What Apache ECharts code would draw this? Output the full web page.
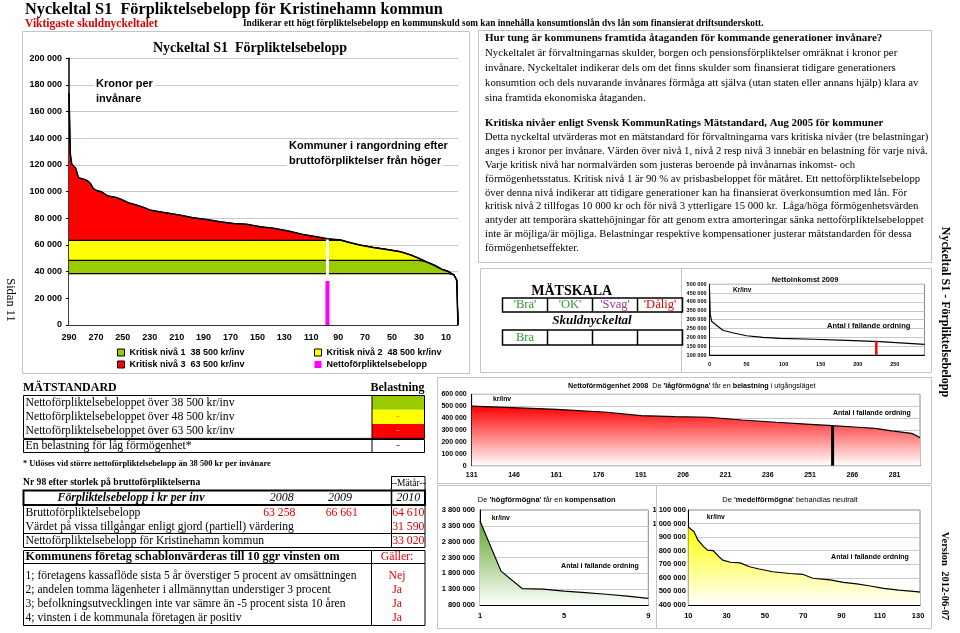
<!DOCTYPE html>
<html><head><meta charset="utf-8">
<script src="https://cdn.jsdelivr.net/npm/echarts@6/dist/echarts.min.js"></script>
<style>html,body{margin:0;padding:0;background:#fff}#c{width:960px;height:633px}</style>
</head><body><div id="c"></div>
<script>
// ---------------- DATA ----------------
const mainRanks  = [290,289,288,287,285,283,278,276,274,272,270,266,263,261,255,250,246,240,234,230,223,215,208,198,188,178,168,158,148,138,128,116,104,98,88,81,74,64,54,44,36,30,25,19,13,8,4,2,1];
const mainValues = [174000,128000,121000,119500,117500,110500,109000,108000,106000,102500,101000,100000,98000,96700,95700,93700,91700,90000,88000,86200,85000,83700,82500,80500,79200,77500,76200,75500,73700,72500,70700,67800,65800,64610,63700,61700,60000,58200,56700,55000,52500,50000,47500,45000,41800,40000,37500,33700,0];
const levels = [38500, 48500, 63500];
const levelNames = ['Kritisk nivå 1  38 500 kr/inv','Kritisk nivå 2  48 500 kr/inv','Kritisk nivå 3  63 500 kr/inv'];
const nettoName = 'Nettoförpliktelsebelopp';
const kommunRank = 98;
const bruttoKommun = 64610;
const nettoKommun = 33020;
const mainTicks = [10,30,50,70,90,110,130,150,170,190,210,230,250,270,290];

const inkomstX = [0,1,3,9,18,31,50,72,95,140,185,230,290];
const inkomstValues = [470000,330000,290000,270000,240000,226000,209000,200000,194000,189000,183000,176000,160000];
const inkomstKommunX = 225, inkomstKommun = 180000;
const inkomstTicks = [0,50,100,150,200,250];

const lagX = [131,143,161,179,191,203,215,227,239,251,259,268,274,280,287,289,290];
const lagValues = [500000,490000,474000,449000,420000,412000,407000,384000,365000,348000,336000,323000,314000,292000,272000,250000,235000];
const lagKommunX = 259, lagKommun = 336000;
const lagTicks = [131,146,161,176,191,206,221,236,251,266,281];

const hogX = [1,2,3,4,5,6,7,8,9];
const hogValues = [3450000,1870000,1320000,1300000,1240000,1190000,1140000,1080000,1010000];
const hogTicks = [1,5,9];

const medelX = [10,13,15,18,20,23,26,28,32,37,42,47,54,63,70,75,84,91,98,105,112,120,129,131];
const medelValues = [975000,940000,879000,830000,805000,800000,756000,731000,715000,710000,682000,665000,645000,632000,625000,597000,585000,567000,556000,540000,523000,510000,498000,495000];
const medelTicks = [10,30,50,70,90,110,130];

const standardRows = ['Nettoförpliktelsebeloppet över 38 500 kr/inv','Nettoförpliktelsebeloppet över 48 500 kr/inv','Nettoförpliktelsebeloppet över 63 500 kr/inv','En belastning för låg förmögenhet*'];
const belastning = ['-','-','-','-'];
const yearHeads = ['2008','2009','2010'];
const bruttoYears = ['63 258','66 661','64 610'];
const vardet2010 = '31 590';
const netto2010 = '33 020';
const villkor = ['1; företagens kassaflöde sista 5 år överstiger 5 procent av omsättningen','2; andelen tomma lägenheter i allmännyttan understiger 3 procent','3; befolkningsutvecklingen inte var sämre än -5 procent sista 10 åren','4; vinsten i de kommunala företagen är positiv'];
const galler = ['Nej','Ja','Ja','Ja'];
const skala = ["'Bra'","'OK'","'Svag'","'Dålig'"];
const skalaResult = ['Bra','','',''];

const para1 = ['Nyckeltalet är förvaltningarnas skulder, borgen och pensionsförpliktelser omräknat i kronor per',
'invånare. Nyckeltalet indikerar dels om det finns skulder som finansierat tidigare generationers',
'konsumtion och dels nuvarande invånares förmåga att själva (utan staten eller annans hjälp) klara av',
'sina framtida ekonomiska åtaganden.'];
const para2 = ['Detta nyckeltal utvärderas mot en mätstandard för förvaltningarna vars kritiska nivåer (tre belastningar)',
'anges i kronor per invånare. Värden över nivå 1, nivå 2 resp nivå 3 innebär en belastning för varje nivå.',
'Varje kritisk nivå har normalvärden som justeras beroende på invånarnas inkomst- och',
'förmögenhetsstatus. Kritisk nivå 1 är 90 % av prisbasbeloppet för mätåret. Ett nettoförpliktelsebelopp',
'över denna nivå indikerar att tidigare generationer kan ha finansierat överkonsumtion med lån. För',
'kritisk nivå 2 tillfogas 10 000 kr och för nivå 3 ytterligare 15 000 kr.  Låga/höga förmögenhetsvärden',
'antyder att temporära skattehöjningar för att genom extra amorteringar sänka nettoförpliktelsebeloppet',
'inte är möjliga/är möjliga. Belastningar respektive kompensationer justerar mätstandarden för dessa',
'förmögenhetseffekter.'];

// ---------------- HELPERS ----------------
const SERIF = '"Liberation Serif","Times New Roman",serif';
const SANS = '"Liberation Sans",Arial,sans-serif';
const fmt = v => String(v).replace(/\B(?=(\d{3})+(?!\d))/g, ' ');
const pairs = (xs, ys) => xs.map((x, i) => [x, ys[i]]);
const RED = '#e00000';

function txt(x, y, text, o) {
  o = o || {};
  const st = {text: text, fill: o.color || '#000', fontSize: o.size || 11, fontFamily: o.family || SERIF,
    fontWeight: o.weight || 'normal', fontStyle: o.italic ? 'italic' : 'normal',
    align: o.align || 'left', verticalAlign: 'middle', textAlign: o.align || 'left', textVerticalAlign: 'middle'};
  if (o.bg) { st.backgroundColor = o.bg; st.padding = [1, 2]; }
  if (o.rich) st.rich = o.rich;
  return {type: 'text', x: x, y: y, rotation: o.rot || 0, z: 100, silent: true, style: st};
}
function rect(x, y, w, h, o) {
  o = o || {};
  return {type: 'rect', z: o.z || 50, silent: true, shape: {x: x, y: y, width: w, height: h},
    style: {fill: o.fill || 'none', stroke: o.stroke || null, lineWidth: o.lw || 1}};
}
function line(x1, y1, x2, y2, o) {
  o = o || {};
  return {type: 'line', z: o.z || 51, silent: true, shape: {x1: x1, y1: y1, x2: x2, y2: y2},
    style: {stroke: o.stroke || '#000', lineWidth: o.lw || 1}};
}
function xAx(gi, min, max, ticks, fs, inverse, margin) {
  return {gridIndex: gi, type: 'value', min: min, max: max, inverse: !!inverse,
    axisLine: {show: true, onZero: false, lineStyle: {color: '#000', width: 1}},
    axisTick: {show: false}, splitLine: {show: false},
    axisLabel: {customValues: ticks, fontFamily: SANS, fontWeight: 'bold', fontSize: fs, color: '#000', margin: margin}};
}
function yAx(gi, min, max, interval, fs, margin) {
  return {gridIndex: gi, type: 'value', min: min, max: max, interval: interval,
    axisLine: {show: true, lineStyle: {color: '#000', width: 1}},
    axisTick: {show: false},
    splitLine: {show: true, lineStyle: {color: '#c8c8c8', width: 1}},
    axisLabel: {formatter: fmt, fontFamily: SANS, fontWeight: 'bold', fontSize: fs, color: '#000', margin: margin}};
}
function grad(c) {
  return new echarts.graphic.LinearGradient(0, 0, 0, 1, [{offset: 0, color: c}, {offset: 1, color: '#ffffff'}]);
}

// ---------------- CHART ----------------
const chart = echarts.init(document.getElementById('c'), null, {renderer: 'canvas'});
const mainData = pairs(mainRanks, mainValues);
const capped = lim => mainData.map(p => [p[0], Math.min(p[1], lim)]);

const grids = [
  {left: 69, top: 58.3, width: 389, height: 266.7},           // main
  {left: 709.5, top: 284.3, width: 215, height: 70.7},         // nettoinkomst
  {left: 471.7, top: 394.3, width: 448.3, height: 71.4},       // nettoförmögenhet
  {left: 480, top: 510, width: 168.3, height: 95},             // hög
  {left: 688.3, top: 510, width: 231.7, height: 95}            // medel
].map((g, i) => Object.assign({show: i > 0, borderColor: '#888', borderWidth: 1, backgroundColor: 'transparent', containLabel: false, outerBoundsMode: 'none'}, g));

const mainY = yAx(0, 0, 200000, 20000, 9, 7);
mainY.axisLine.lineStyle.width = 1.5;
mainY.axisTick = {show: true, length: 3, lineStyle: {color: '#000'}};
const mainX = xAx(0, 1, 290, mainTicks, 9, true, 8);
mainX.axisLine.lineStyle.width = 1.5;

const graphics = [];
// frames
graphics.push(rect(22.5, 31.5, 447, 342, {stroke: '#c4c4c4', z: 1}));
graphics.push(rect(478.5, 30.5, 453, 232, {stroke: '#c4c4c4', z: 1}));
graphics.push(rect(480.5, 268.5, 451, 104, {stroke: '#c4c4c4', z: 1}));
graphics.push(line(681.5, 268.5, 681.5, 372.5, {stroke: '#c4c4c4', z: 1}));
graphics.push(rect(437.5, 377.5, 494, 106, {stroke: '#c4c4c4', z: 1}));
graphics.push(rect(437.5, 485.5, 219, 143, {stroke: '#c4c4c4', z: 1}));
graphics.push(rect(656.5, 485.5, 275, 143, {stroke: '#c4c4c4', z: 1}));

// top titles
graphics.push(txt(25, 10, 'Nyckeltal S1  Förpliktelsebelopp för Kristinehamn kommun', {size: 16.3, weight: 'bold'}));
graphics.push(txt(25, 24, 'Viktigaste skuldnyckeltalet', {size: 11.5, weight: 'bold', color: RED}));
graphics.push(txt(243, 23.5, 'Indikerar ett högt förpliktelsebelopp en kommunskuld som kan innehålla konsumtionslån dvs lån som finansierat driftsunderskott.', {size: 9.3, weight: 'bold'}));

// main chart texts
graphics.push(txt(250, 48, 'Nyckeltal S1  Förpliktelsebelopp', {size: 14, weight: 'bold', align: 'center'}));
graphics.push(txt(94, 84, 'Kronor per', {size: 11, weight: 'bold', family: SANS, bg: '#fff'}));
graphics.push(txt(94, 99, 'invånare', {size: 11, weight: 'bold', family: SANS, bg: '#fff'}));
graphics.push(txt(287, 146, 'Kommuner i rangordning efter', {size: 11, weight: 'bold', family: SANS, bg: '#fff'}));
graphics.push(txt(287, 161, 'bruttoförpliktelser från höger', {size: 11, weight: 'bold', family: SANS, bg: '#fff'}));

// MÄTSTANDARD table
graphics.push(txt(23, 388, 'MÄTSTANDARD', {size: 12, weight: 'bold'}));
graphics.push(txt(424.5, 388, 'Belastning', {size: 12, weight: 'bold', align: 'right'}));
const cellColors = ['#99cc00', '#ffff00', '#ff0000'];
const rowTop = [395.5, 409.8, 424.1];
for (let i = 0; i < 3; i++) {
  graphics.push(rect(372, rowTop[i], 52.5, 14.3, {fill: cellColors[i], z: 40}));
  graphics.push(txt(23.5 + 2, rowTop[i] + 7.2, standardRows[i], {size: 11.7}));
  graphics.push(txt(398, rowTop[i] + 7.2, belastning[i], {size: 11.7, align: 'center', color: '#ff9a00'}));
}
graphics.push(rect(23.5, 395.5, 401, 42.9, {stroke: '#000'}));
graphics.push(line(372, 395.5, 372, 438.4));
graphics.push(rect(23.5, 439.5, 401, 13, {stroke: '#000'}));
graphics.push(line(372, 439.5, 372, 452.5));
graphics.push(txt(25.5, 446, standardRows[3], {size: 11.7}));
graphics.push(txt(398, 446, belastning[3], {size: 11.7, align: 'center', color: '#555'}));
graphics.push(txt(23, 463.5, '* Utlöses vid större nettoförpliktelsebelopp än 38 500 kr per invånare', {size: 8.4, weight: 'bold'}));
graphics.push(txt(23, 483, 'Nr 98 efter storlek på bruttoförpliktelserna', {size: 9.6, weight: 'bold'}));
graphics.push(rect(391.5, 476.5, 33.5, 14, {stroke: '#000'}));
graphics.push(txt(408.3, 483.5, '--Mätår--', {size: 9.5, align: 'center'}));
graphics.push(rect(23.5, 490.5, 401.5, 14.5, {stroke: '#000', lw: 2}));
graphics.push(line(391.5, 490.5, 391.5, 505, {lw: 1.5}));
graphics.push(txt(131, 497.8, 'Förpliktelsebelopp i kr per inv', {size: 11.8, weight: 'bold', italic: true, align: 'center'}));
graphics.push(txt(281.7, 497.8, yearHeads[0], {size: 12, italic: true, align: 'center'}));
graphics.push(txt(340, 497.8, yearHeads[1], {size: 12, italic: true, align: 'center'}));
graphics.push(txt(408.3, 497.8, yearHeads[2], {size: 12, italic: true, align: 'center'}));
graphics.push(rect(23.5, 505.5, 401.5, 28, {stroke: '#000'}));
graphics.push(line(391.5, 505.5, 391.5, 547.5));
graphics.push(rect(23.5, 533.5, 401.5, 14, {stroke: '#000'}));
graphics.push(txt(25.5, 512.5, 'Bruttoförpliktelsebelopp', {size: 11.7}));
graphics.push(txt(279.3, 512.5, bruttoYears[0], {size: 11.7, align: 'center', color: RED}));
graphics.push(txt(341.7, 512.5, bruttoYears[1], {size: 11.7, align: 'center', color: RED}));
graphics.push(txt(408.3, 512.5, bruttoYears[2], {size: 11.7, align: 'center', color: RED}));
graphics.push(txt(25.5, 526.5, 'Värdet på vissa tillgångar enligt gjord (partiell) värdering', {size: 11.7}));
graphics.push(txt(408.3, 526.5, vardet2010, {size: 11.7, align: 'center', color: RED}));
graphics.push(txt(25.5, 540.5, 'Nettoförpliktelsebelopp för Kristinehamn kommun', {size: 11.7}));
graphics.push(txt(408.3, 540.5, netto2010, {size: 11.7, align: 'center', color: RED}));
graphics.push(rect(23.5, 550.5, 401.5, 13, {stroke: '#000'}));
graphics.push(line(371.5, 550.5, 371.5, 563.5));
graphics.push(txt(25.5, 557, 'Kommunens företag schablonvärderas till 10 ggr vinsten om', {size: 12.2, weight: 'bold'}));
graphics.push(txt(397, 557, 'Gäller:', {size: 11.7, align: 'center', color: RED}));
graphics.push(rect(23.5, 563.5, 401.5, 62, {stroke: '#000'}));
graphics.push(line(371.5, 563.5, 371.5, 625.5));
for (let i = 0; i < 4; i++) {
  graphics.push(txt(25.5, 576 + i * 14, villkor[i], {size: 11.6}));
  graphics.push(txt(397, 576 + i * 14, galler[i], {size: 11.7, align: 'center', color: RED}));
}

// right text block
graphics.push(txt(485, 38, 'Hur tung är kommunens framtida åtaganden för kommande generationer invånare?', {size: 11, weight: 'bold'}));
para1.forEach((s, i) => graphics.push(txt(485, 53.5 + i * 15, s, {size: 10.8})));
graphics.push(txt(485, 123, 'Kritiska nivåer enligt Svensk KommunRatings Mätstandard, Aug 2005 för kommuner', {size: 10.8, weight: 'bold'}));
para2.forEach((s, i) => graphics.push(txt(485, 137.5 + i * 13.8, s, {size: 10.7})));

// MÄTSKALA
graphics.push(txt(571.7, 291, 'MÄTSKALA', {size: 14, weight: 'bold', align: 'center'}));
const skalaColors = ['#339933', '#339933', '#993399', RED];
for (let i = 0; i < 4; i++) {
  graphics.push(txt(525 + i * 45, 305, skala[i], {size: 12.5, align: 'center', color: skalaColors[i]}));
  if (skalaResult[i]) graphics.push(txt(525 + i * 45, 337.5, skalaResult[i], {size: 12.5, align: 'center', color: skalaColors[i]}));
}
graphics.push(rect(502.5, 298, 180, 14, {stroke: '#000', lw: 1.5}));
graphics.push(rect(502.5, 330, 180, 15, {stroke: '#000', lw: 1.5}));
for (let i = 1; i < 4; i++) {
  graphics.push(line(502.5 + i * 45, 298, 502.5 + i * 45, 312, {lw: 1.5}));
  graphics.push(line(502.5 + i * 45, 330, 502.5 + i * 45, 345, {lw: 1.5}));
}
graphics.push(txt(592, 321, 'Skuldnyckeltal', {size: 13, weight: 'bold', italic: true, align: 'center'}));

// small chart texts
graphics.push(txt(805, 279.5, 'Nettoinkomst 2009', {size: 7.5, weight: 'bold', family: SANS, align: 'center'}));
graphics.push(txt(733, 290, 'Kr/inv', {size: 6.5, weight: 'bold', family: SANS}));
graphics.push(txt(827, 325.7, 'Antal i fallande ordning', {size: 7.5, weight: 'bold', family: SANS}));

graphics.push(txt(691.7, 386, '{a|Nettoförmögenhet 2008}  {r|De }{rb|\'lågförmögna\'}{r| får en }{rb|belastning}{r| i utgångsläget}', {align: 'center', family: SANS, size: 7.2, rich: {
  a: {fontFamily: SANS, fontSize: 7.2, fontWeight: 'bold', color: '#000'},
  r: {fontFamily: SANS, fontSize: 7.2, color: RED},
  rb: {fontFamily: SANS, fontSize: 7.2, fontWeight: 'bold', color: RED}}}));
graphics.push(txt(493, 399.3, 'kr/inv', {size: 6.8, weight: 'bold', family: SANS}));
graphics.push(txt(833, 412.7, 'Antal i fallande ordning', {size: 7, weight: 'bold', family: SANS}));

const GREEN = '#2f9960';
graphics.push(txt(546.7, 500, "{g|De }{gb|'högförmögna'}{g| får en }{gb|kompensation}", {align: 'center', family: SANS, size: 7.5, rich: {
  g: {fontFamily: SANS, fontSize: 7.5, color: GREEN},
  gb: {fontFamily: SANS, fontSize: 7.5, fontWeight: 'bold', color: GREEN}}}));
graphics.push(txt(491.7, 517.7, 'kr/inv', {size: 6.8, weight: 'bold', family: SANS}));
graphics.push(txt(600, 565.7, 'Antal i fallande ordning', {size: 7, weight: 'bold', family: SANS, align: 'center'}));

graphics.push(txt(790, 500, "{k|De }{kb|'medelförmögna'}{k| behandlas neutralt}", {align: 'center', family: SANS, size: 7.5, rich: {
  k: {fontFamily: SANS, fontSize: 7.5, color: '#000'},
  kb: {fontFamily: SANS, fontSize: 7.5, fontWeight: 'bold', color: '#000'}}}));
graphics.push(txt(706.7, 516.7, 'kr/inv', {size: 6.8, weight: 'bold', family: SANS}));
graphics.push(txt(870, 556.7, 'Antal i fallande ordning', {size: 7, weight: 'bold', family: SANS, align: 'center'}));

// side texts
graphics.push(txt(10, 300, 'Sidan 11', {size: 12.5, align: 'center', rot: -Math.PI / 2}));
graphics.push(txt(945, 312, 'Nyckeltal S1 - Förpliktelsebelopp', {size: 12, weight: 'bold', align: 'center', rot: -Math.PI / 2}));
graphics.push(txt(945, 576, 'Version  2012-06-07', {size: 10.5, weight: 'bold', align: 'center', rot: -Math.PI / 2}));

const legendText = {fontFamily: SANS, fontWeight: 'bold', fontSize: 9, color: '#000'};
const option = {
  animation: false,
  backgroundColor: '#fff',
  grid: grids,
  xAxis: [
    mainX,
    {gridIndex: 0, type: 'value', inverse: true, min: 1, max: 290, show: false},
    xAx(1, 0, 290, inkomstTicks, 5.5, false, 6),
    xAx(2, 131, 290, lagTicks, 7, false, 6),
    xAx(3, 1, 9, hogTicks, 7.5, false, 7),
    xAx(4, 10, 131, medelTicks, 7.5, false, 7)
  ],
  yAxis: [
    mainY,
    yAx(1, 100000, 500000, 50000, 5.5, 3),
    yAx(2, 0, 600000, 100000, 7, 5),
    yAx(3, 800000, 3800000, 500000, 7.5, 5),
    yAx(4, 400000, 1100000, 100000, 7.5, 2.5)
  ],
  legend: [
    {left: 112, top: 343, orient: 'vertical', icon: 'rect', itemWidth: 7, itemHeight: 7, itemGap: 3, selectedMode: false,
     textStyle: legendText, itemStyle: {borderColor: '#000', borderWidth: 1},
     data: [levelNames[0], levelNames[2]]},
    {left: 309, top: 343, orient: 'vertical', icon: 'rect', itemWidth: 7, itemHeight: 7, itemGap: 3, selectedMode: false,
     textStyle: legendText, itemStyle: {borderColor: '#000', borderWidth: 1},
     data: [levelNames[1], {name: nettoName, itemStyle: {borderWidth: 0}}]}
  ],
  series: [
    {type: 'line', name: levelNames[2], xAxisIndex: 0, yAxisIndex: 0, data: mainData, symbol: 'none', color: '#ff0000',
     lineStyle: {color: '#000', width: 1}, areaStyle: {color: '#ff0000', opacity: 1}, z: 2, silent: true},
    {type: 'line', name: levelNames[1], xAxisIndex: 0, yAxisIndex: 0, data: capped(levels[2]), symbol: 'none', color: '#ffff00',
     lineStyle: {color: '#000', width: 1.2}, areaStyle: {color: '#ffff00', opacity: 1}, z: 3, silent: true},
    {type: 'line', name: levelNames[0], xAxisIndex: 0, yAxisIndex: 0, data: capped(levels[1]), symbol: 'none', color: '#99cc00',
     lineStyle: {color: '#000', width: 1.2}, areaStyle: {color: '#99cc00', opacity: 1}, z: 4, silent: true},
    {type: 'line', name: 'under', xAxisIndex: 0, yAxisIndex: 0, data: capped(levels[0]), symbol: 'none', color: '#ffffff',
     lineStyle: {color: '#000', width: 1.2}, areaStyle: {color: '#ffffff', opacity: 1}, z: 5, silent: true},
    {type: 'bar', name: 'brutto', xAxisIndex: 1, yAxisIndex: 0, data: [[kommunRank, bruttoKommun]], barWidth: 3,
     itemStyle: {color: '#ffffff'}, z: 6, silent: true},
    {type: 'bar', name: nettoName, xAxisIndex: 0, yAxisIndex: 0, data: [[kommunRank, nettoKommun]], barWidth: 4,
     color: '#ff00ff', itemStyle: {color: '#ff00ff'}, z: 7, silent: true},
    {type: 'line', name: 'kurva', xAxisIndex: 0, yAxisIndex: 0, data: mainData, symbol: 'none',
     lineStyle: {color: '#000', width: 1.5}, z: 8, silent: true},

    {type: 'line', name: 'inkomst', xAxisIndex: 2, yAxisIndex: 1, data: pairs(inkomstX, inkomstValues), symbol: 'none',
     lineStyle: {color: '#000', width: 1.2}, silent: true, z: 3},
    {type: 'bar', name: 'inkomstKommun', xAxisIndex: 2, yAxisIndex: 1, data: [[inkomstKommunX, inkomstKommun]], barWidth: 2.5,
     itemStyle: {color: '#ff0000'}, clip: true, silent: true, z: 4},

    {type: 'line', name: 'lag', xAxisIndex: 3, yAxisIndex: 2, data: pairs(lagX, lagValues), symbol: 'none',
     lineStyle: {color: '#000', width: 1.2}, areaStyle: {color: grad('#ff0000'), opacity: 1, origin: 'start'}, silent: true, z: 3},
    {type: 'bar', name: 'lagKommun', xAxisIndex: 3, yAxisIndex: 2, data: [[lagKommunX, lagKommun]], barWidth: 3,
     itemStyle: {color: '#000'}, silent: true, z: 4},

    {type: 'line', name: 'hog', xAxisIndex: 4, yAxisIndex: 3, data: pairs(hogX, hogValues), symbol: 'none',
     lineStyle: {color: '#000', width: 1.2}, areaStyle: {color: grad('#5fa52a'), opacity: 1, origin: 'start'}, silent: true, z: 3},

    {type: 'line', name: 'medel', xAxisIndex: 5, yAxisIndex: 4, data: pairs(medelX, medelValues), symbol: 'none',
     lineStyle: {color: '#000', width: 1.2}, areaStyle: {color: grad('#ffff00'), opacity: 1, origin: 'start'}, silent: true, z: 3}
  ],
  graphic: {elements: graphics}
};
chart.setOption(option);
</script>
</body></html>
